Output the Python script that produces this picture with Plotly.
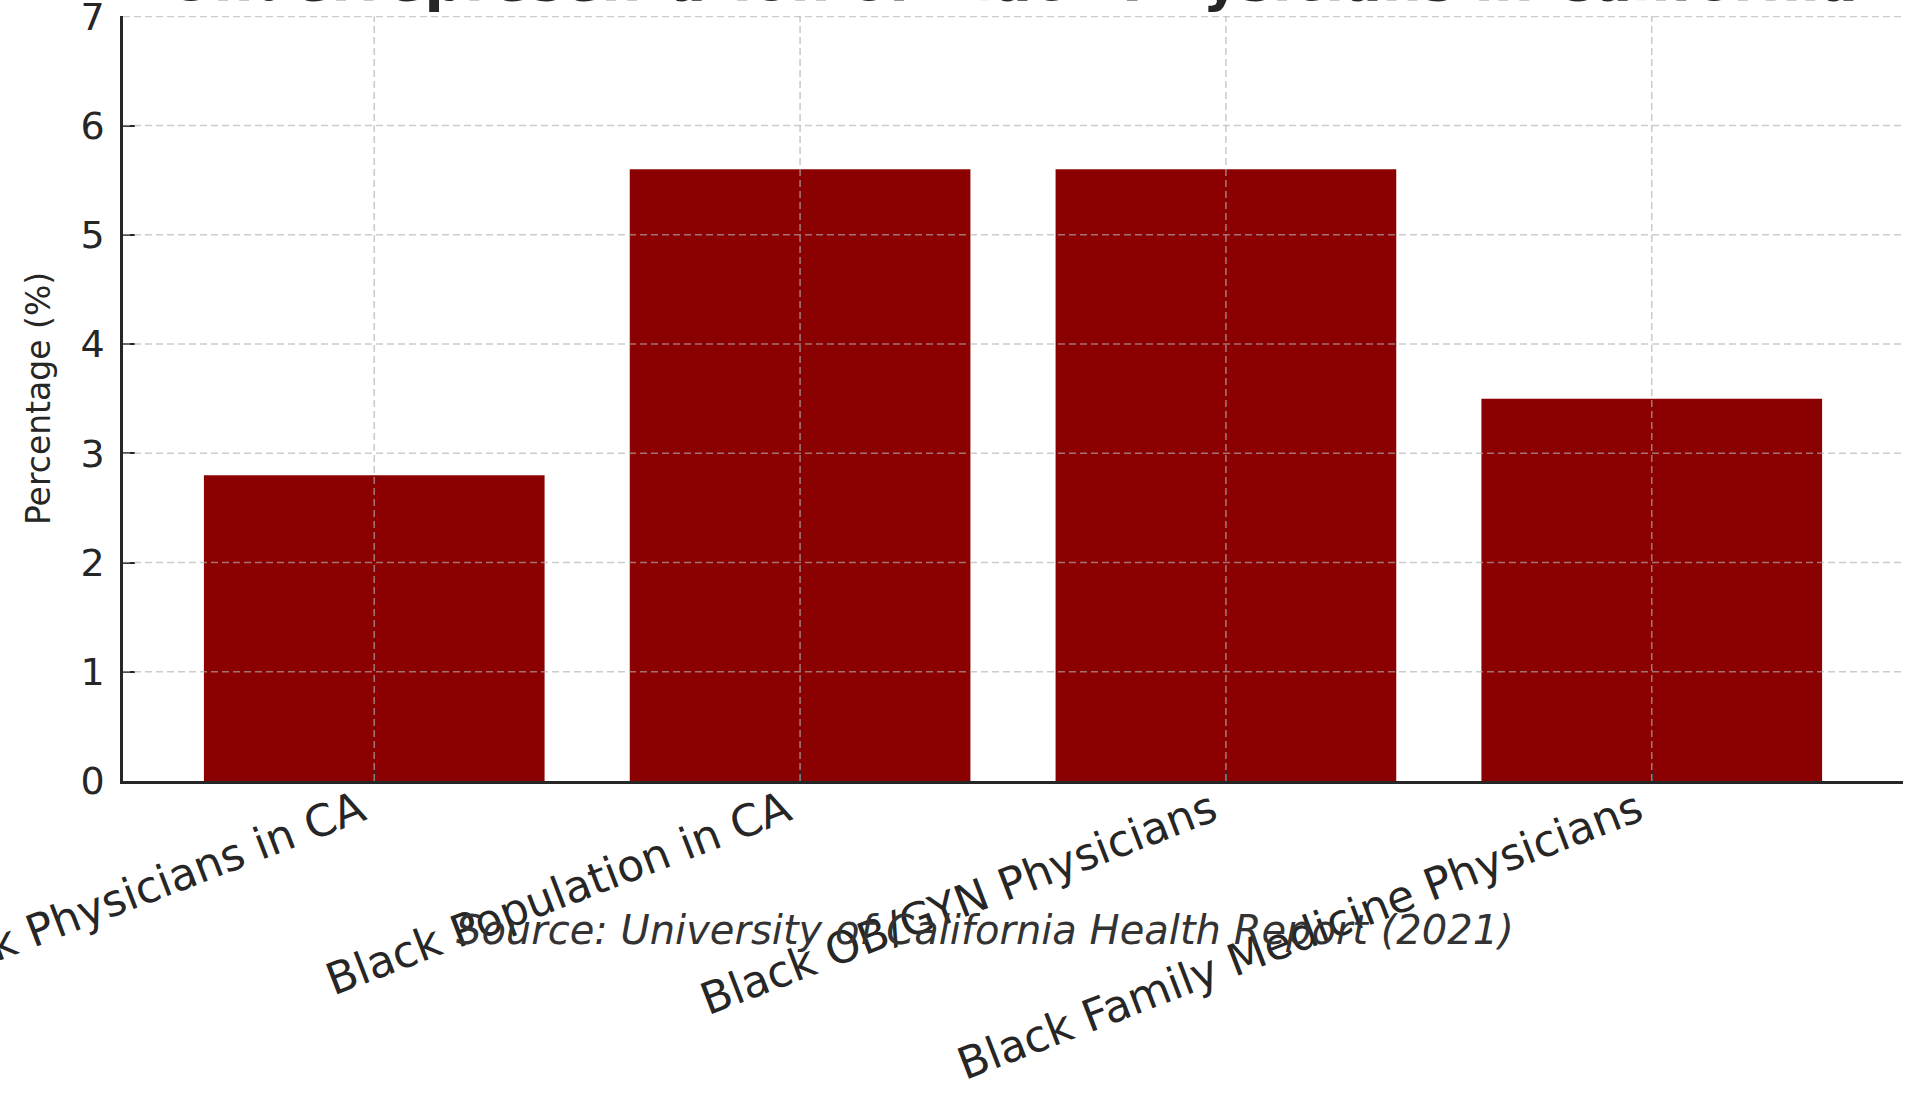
import plotly.graph_objects as go

categories = [
    "Black Physicians in CA",
    "Black Population in CA",
    "Black OB/GYN Physicians",
    "Black Family Medicine Physicians",
]
values = [2.8, 5.6, 5.6, 3.5]
y_ticks = [0, 1, 2, 3, 4, 5, 6, 7]

title_text = "Underrepresentation of Black Physicians in California"
y_title = "Percentage (%)"
source_text = "Source: University of California Health Report (2021)"

BAR = "#8B0000"
INK = "#262626"
GRID = "rgba(176,176,176,0.65)"
FONT = "DejaVu Sans"

fig = go.Figure(
    go.Bar(x=categories, y=values, marker=dict(color=BAR, line=dict(width=0)), width=0.8)
)

shapes = []
for t in y_ticks[1:]:
    shapes.append(dict(type="line", xref="paper", x0=0, x1=1, yref="y", y0=t, y1=t,
                       line=dict(color=GRID, width=1.6, dash="7px,4px"), layer="above"))
for c in categories:
    shapes.append(dict(type="line", xref="x", x0=c, x1=c, yref="y", y0=y_ticks[0], y1=y_ticks[-1],
                       line=dict(color=GRID, width=1.6, dash="7px,4px"), layer="above"))

fig.update_layout(
    width=1913, height=1094,
    margin=dict(l=123, r=10, t=16, b=313, autoexpand=False),
    paper_bgcolor="white", plot_bgcolor="white",
    showlegend=False,
    font=dict(family=FONT, color=INK),
    shapes=shapes,
    annotations=[
        dict(text="<b>" + title_text + "</b>", xref="paper", yref="paper", x=0.5, y=1,
             xanchor="center", yanchor="bottom", yshift=1, showarrow=False,
             font=dict(family=FONT, size=56, color=INK)),
        dict(text=source_text, xref="paper", yref="paper", x=0.484, y=-0.195, xanchor="center",
             yanchor="middle", showarrow=False,
             font=dict(family=FONT, size=40, color="#333333", style="italic")),
    ],
)

fig.update_xaxes(
    range=[-0.59, 3.59], showgrid=False, showline=True, linecolor=INK, linewidth=2.5,
    ticks="inside", ticklen=10, tickwidth=2, tickcolor=INK, tickangle=-21,
    tickfont=dict(family=FONT, size=44, color=INK), mirror=False, layer="above traces",
    ticklabelstandoff=-16, ticklabelshift=-14, ticklabeloverflow="allow",
)
fig.update_yaxes(
    range=[0, 7.003], tickvals=y_ticks, showgrid=False, zeroline=False, showline=True,
    linecolor=INK, linewidth=2.5, ticks="inside", ticklen=12, tickwidth=2, tickcolor=INK,
    tickfont=dict(family=FONT, size=38, color=INK), layer="above traces",
    ticklabelstandoff=8, ticklabeloverflow="allow",
    title=dict(text=y_title, font=dict(family=FONT, size=33, color=INK), standoff=20),
    automargin=False,
)

fig.write_html("out.html", config={"displayModeBar": False},
               post_script="document.body.style.margin='0px';")
